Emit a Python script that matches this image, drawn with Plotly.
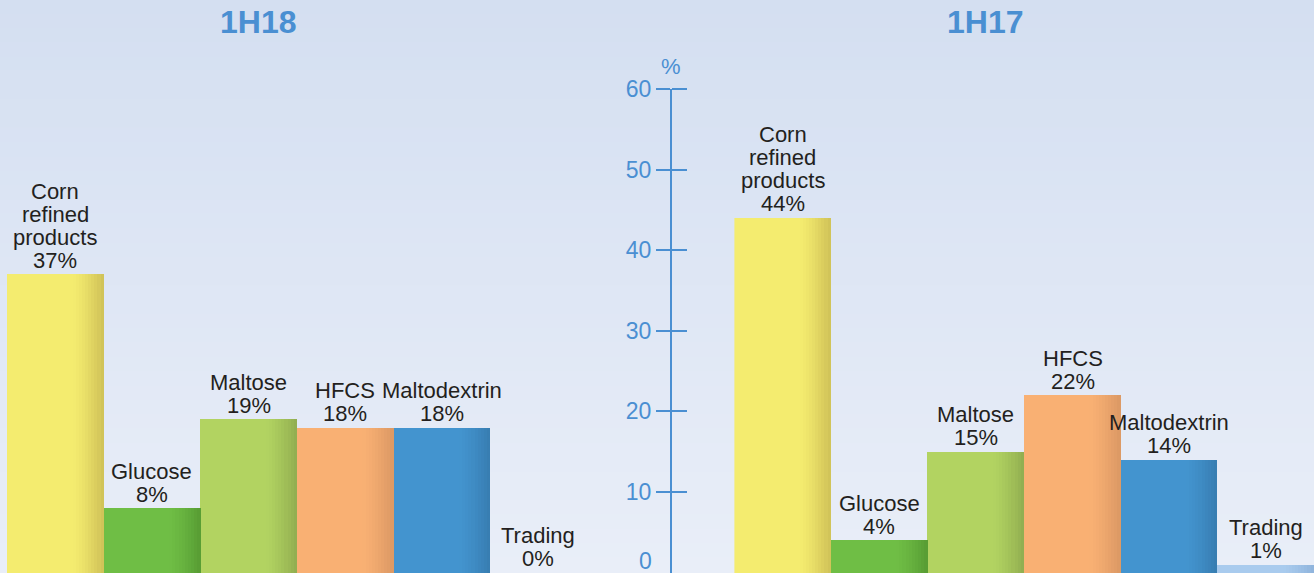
import plotly.graph_objects as go

# ---- data ----
categories = ["Corn refined products", "Glucose", "Maltose", "HFCS", "Maltodextrin", "Trading"]
label_lines = [["Corn", "refined", "products"], ["Glucose"], ["Maltose"], ["HFCS"], ["Maltodextrin"], ["Trading"]]
values_1h18 = [37, 8, 19, 18, 18, 0]
values_1h17 = [44, 4, 15, 22, 14, 1]
panel_titles = ["1H18", "1H17"]
y_ticks = [10, 20, 30, 40, 50, 60]

# ---- style ----
base_colors = ["#f4ec6f", "#6fbe45", "#b2d361", "#f9b073", "#4394cf", "#a9cbee"]
edge_colors = ["#cfc157", "#579c33", "#90ad50", "#db9864", "#377cb0", "#8fb4dc"]
TXT = "#231f20"
BLUE = "#4a8fd2"
FONT = "Liberation Sans, Arial, Helvetica, sans-serif"


def hex2rgb(h):
    h = h.lstrip("#")
    return tuple(int(h[i:i + 2], 16) for i in (0, 2, 4))


def mix(c1, c2, t):
    a, b = hex2rgb(c1), hex2rgb(c2)
    return "rgb(%d,%d,%d)" % tuple(round(a[i] + (b[i] - a[i]) * t) for i in range(3))


fig = go.Figure()
x_pos = list(range(len(categories)))

N_STRIPS = 10
strip_start = 0.18
strip_w = (0.5 - strip_start) / N_STRIPS

annotations = []
for vals, xa in [(values_1h18, "x"), (values_1h17, "x2")]:
    fig.add_trace(go.Bar(
        x=x_pos, y=vals, xaxis=xa, yaxis="y",
        marker=dict(color=base_colors, line=dict(width=0)),
        width=1.0, offset=-0.5,
        hoverinfo="skip", showlegend=False,
    ))
    for k in range(N_STRIPS):
        t = (k + 0.5) / N_STRIPS
        cols = [mix(b, e, t ** 1.3) for b, e in zip(base_colors, edge_colors)]
        fig.add_trace(go.Bar(
            x=x_pos, y=vals, xaxis=xa, yaxis="y",
            marker=dict(color=cols, line=dict(width=0)),
            width=strip_w + 0.004, offset=strip_start + k * strip_w,
            hoverinfo="skip", showlegend=False,
        ))
    # value labels, one line per annotation for tight line spacing
    for i, (lines, v) in enumerate(zip(label_lines, vals)):
        all_lines = lines + ["%d%%" % v]
        n = len(all_lines)
        for j, ln in enumerate(all_lines):
            annotations.append(dict(
                text=ln, x=x_pos[i], y=v, xref=xa, yref="y",
                xanchor="center", yanchor="middle",
                yshift=14 + (n - 1 - j) * 23, showarrow=False,
                font=dict(family=FONT, size=22, color=TXT)))

# background gradient bands
top_c, bot_c = "#d4dff1", "#e9eef8"
NB = 40
shapes = []
for i in range(NB):
    t = i / (NB - 1)
    shapes.append(dict(type="rect", xref="paper", yref="paper", x0=0, x1=1,
                       y0=1 - (i + 1) / NB, y1=1 - i / NB + 0.002,
                       fillcolor=mix(top_c, bot_c, t), line=dict(width=0), layer="below"))

y_top_frac = (573 - 89) / 573
axis_pos = 671 / 1314

annotations += [
    dict(text="<b>%s</b>" % panel_titles[0], x=258 / 1314, y=1 - 22 / 573, xref="paper", yref="paper",
         xanchor="center", yanchor="middle",
         showarrow=False, font=dict(family=FONT, size=32, color=BLUE)),
    dict(text="<b>%s</b>" % panel_titles[1], x=985 / 1314, y=1 - 22 / 573, xref="paper", yref="paper",
         xanchor="center", yanchor="middle",
         showarrow=False, font=dict(family=FONT, size=32, color=BLUE)),
    dict(text="%", x=axis_pos, y=1 - 66 / 573, xref="paper", yref="paper",
         xanchor="center", yanchor="middle",
         showarrow=False, font=dict(family=FONT, size=22, color=BLUE)),
    dict(text="0", x=axis_pos, y=0, xref="paper", yref="y", xanchor="right", yanchor="middle",
         xshift=-17, yshift=12, showarrow=False, font=dict(family=FONT, size=23, color=BLUE)),
]

fig.update_layout(
    width=1314, height=573,
    margin=dict(l=0, r=0, t=0, b=0, pad=0),
    paper_bgcolor="#dfe7f4", plot_bgcolor="rgba(0,0,0,0)",
    barmode="overlay", bargap=0,
    shapes=shapes, annotations=annotations,
    xaxis=dict(domain=[7 / 1314, (7 + 6 * 96.6) / 1314], range=[-0.5, 5.5],
               visible=False, fixedrange=True, automargin=False),
    xaxis2=dict(domain=[734.4 / 1314, 1.0], range=[-0.5, 5.5],
                visible=False, fixedrange=True, anchor="y", automargin=False),
    yaxis=dict(domain=[0, y_top_frac], range=[-0.05, 60], anchor="free", position=axis_pos,
               tickvals=y_ticks, ticktext=[str(v) for v in y_ticks],
               showline=True, linecolor=BLUE, linewidth=2,
               ticks="outside", ticklen=14, tickwidth=1.5, tickcolor=BLUE,
               tickfont=dict(family=FONT, size=23, color=BLUE),
               showgrid=False, zeroline=False, fixedrange=True, automargin=False),
    yaxis2=dict(domain=[0, y_top_frac], range=[-0.05, 60], anchor="free", position=axis_pos,
                overlaying="y", side="right", tickvals=y_ticks, showticklabels=False,
                showline=False, ticks="outside", ticklen=15, tickwidth=1.5, tickcolor=BLUE,
                showgrid=False, zeroline=False, fixedrange=True, automargin=False),
    font=dict(family=FONT),
)

# invisible trace so the right-side tick marks are rendered
fig.add_trace(go.Scatter(x=[0], y=[1], xaxis="x", yaxis="y2", mode="markers",
                         marker=dict(opacity=0), hoverinfo="skip", showlegend=False))

fig.write_html("out.html", config={"displayModeBar": False},
               post_script="document.body.style.margin='0';document.body.style.overflow='hidden';")
